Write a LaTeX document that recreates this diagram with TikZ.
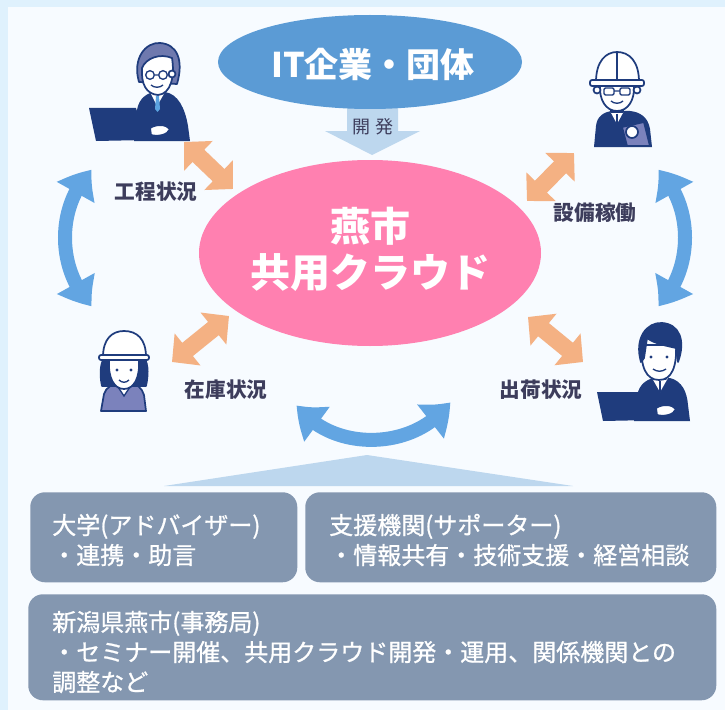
\documentclass[tikz,border=0pt]{standalone}
\usepackage{fontspec}
\setmainfont{Noto Sans CJK JP}
\newfontfamily\boxfont[FakeBold=0.9]{Noto Sans CJK JP}
\usetikzlibrary{arrows.meta,bending,shapes.geometric}

\definecolor{bgOuter}{HTML}{DFF1FD}
\definecolor{bgInner}{HTML}{F7FBFF}
\definecolor{itBlue}{HTML}{5B9BD5}
\definecolor{cloudPink}{HTML}{FF80B0}
\definecolor{devBlue}{HTML}{BDD7EE}
\definecolor{linkOrange}{HTML}{F4B183}
\definecolor{flowBlue}{HTML}{62A5E2}
\definecolor{boxGrey}{HTML}{8497B0}
\definecolor{labelInk}{HTML}{3D3D5C}
\definecolor{navy}{HTML}{1F3C7D}
\definecolor{hairGrey}{HTML}{6F79AE}
\definecolor{vest}{HTML}{7B82BC}
\definecolor{tieBlue}{HTML}{5BA3E0}

\tikzset{
  linkarrow/.style={draw=linkOrange, line width=12.75pt,
    {Triangle[width=30pt,length=15pt]}-{Triangle[width=30pt,length=15pt]}},
  flowarrow/.style={draw=flowBlue, line width=10.5pt,
    {Triangle[width=31pt,length=21pt,bend]}-{Triangle[width=31pt,length=21pt,bend]}},
  infobox/.style={fill=boxGrey, rounded corners=11pt, anchor=north west, inner sep=0pt},
  infotext/.style={text=white, font=\boxfont\fontsize{18pt}{22.5pt}\selectfont, align=left, anchor=west, inner sep=0pt},
  statuslabel/.style={text=labelInk, font=\bfseries\fontsize{15.5pt}{18pt}\selectfont, inner sep=0pt},
  outline/.style={draw=navy, line width=1.3pt, line join=round},
}

\begin{document}
\begin{tikzpicture}[x=0.75pt, y=-0.75pt]
% page and panel
\fill[bgOuter] (0,0) rectangle (725,710);
\fill[bgInner] (8,7) rectangle (725,710);
\useasboundingbox (0,0) rectangle (725,710);

% development arrow
\fill[devBlue] (347,100) -- (398,100) -- (398,131) -- (420,131) -- (372,155)
  -- (325,131) -- (347,131) -- cycle;
\node[text=labelInk, font=\fontsize{13.5pt}{15pt}\selectfont, inner sep=0pt] (dev) at (373,127) {開\hspace{4pt}発};

% top organisation ellipse
\node[ellipse, fill=itBlue, minimum width=228pt, minimum height=70.5pt, inner sep=0pt] (it) at (370,62) {};
\node[text=white, font=\bfseries\fontsize{25.5pt}{28pt}\selectfont, inner sep=0pt] (itlabel) at (373,64) {IT企業・団体};

% shared cloud
\node[ellipse, fill=cloudPink, minimum width=256.5pt, minimum height=139.5pt, inner sep=0pt] (cloud) at (370,253) {};
\node[text=white, font=\bfseries\fontsize{30pt}{34.5pt}\selectfont, align=center, inner sep=0pt] (cloudlabel) at (370,249) {燕市\\共用クラウド};

% data exchange arrows
\coordinate (tlA) at (184,142); \coordinate (tlB) at (233,189);
\coordinate (trA) at (527,201); \coordinate (trB) at (574,153);
\coordinate (blA) at (172,362); \coordinate (blB) at (229,316);
\coordinate (brA) at (528,317); \coordinate (brB) at (583,362);
\draw[linkarrow] (tlA) -- (tlB);
\draw[linkarrow] (trA) -- (trB);
\draw[linkarrow] (blA) -- (blB);
\draw[linkarrow] (brA) -- (brB);

% circulation arrows
\coordinate (lTop) at (92,170); \coordinate (lBot) at (92,306);
\coordinate (rTop) at (658,170); \coordinate (rBot) at (658,306);
\coordinate (bL) at (297,405); \coordinate (bR) at (450,402);
\draw[flowarrow] (lTop) .. controls (56,205) and (56,270) .. (lBot);
\draw[flowarrow] (rTop) .. controls (694,205) and (694,270) .. (rBot);
\draw[flowarrow] (bL) .. controls (330,452) and (415,452) .. (bR);

% status labels
\node[statuslabel] (l1) at (156,192) {工程状況};
\node[statuslabel] (l2) at (595,213) {設備稼働};
\node[statuslabel] (l3) at (226,390) {在庫状況};
\node[statuslabel] (l4) at (541,390) {出荷状況};

% support base triangle
\fill[devBlue] (367,455) -- (573,486) -- (164,486) -- cycle;

% supporting organisations
\node[infobox, minimum width=200.25pt, minimum height=67.5pt] (univ) at (30,492) {};
\node[infobox, minimum width=308.25pt, minimum height=67.5pt] (support) at (305,492) {};
\node[infobox, minimum width=516pt, minimum height=79.5pt] (office) at (28,594) {};
\node[infotext] (univtext) at (52,540) {大学(アドバイザー)\\・連携・助言};
\node[infotext] (supporttext) at (329,540) {支援機関(サポーター)\\・情報共有・技術支援・経営相談};
\node[infotext] (officetext) at (52,652) {新潟県燕市(事務局)\\・セミナー開催、共用クラウド開発・運用、関係機関との\\調整など};

% --- person 1: manager at laptop (top left)
\fill[navy] (134,141) -- (137,110) .. controls (139,98) and (147,93) .. (155,92) -- (165,92)
  .. controls (178,94) and (185,108) .. (188,126) -- (190,141) -- cycle;
\fill[white] (150,92) -- (157,106) -- (165,92) -- cycle;
\fill[tieBlue] (156,96) -- (159,96) -- (160,109) -- (157.5,112) -- (155,109) -- cycle;
\filldraw[fill=white, outline] (151,84) rectangle (164,93);
\filldraw[fill=hairGrey, outline] (139,82) .. controls (132,58) and (146,42) .. (160,43)
  .. controls (177,44) and (184,60) .. (177,84) -- cycle;
\filldraw[fill=white, outline] (142,68) .. controls (146,58) and (160,53) .. (172,58)
  .. controls (175,76) and (171,94) .. (158,95) .. controls (146,94) and (141,84) .. (142,68) -- cycle;
\filldraw[fill=white, outline] (172,74) circle[radius=3.5];
\draw[navy, line width=1pt] (150,75) circle[radius=4.3] (163,75) circle[radius=4.3] (154.3,75) -- (158.7,75);
\draw[navy, line width=1pt] (151,85) .. controls (154,88) and (160,88) .. (163,85);
\fill[navy] (89,108) -- (136,108) -- (146,140) -- (96,141) -- cycle;
\filldraw[fill=white, outline] (150,128) .. controls (156,124) and (166,124) .. (170,129)
  .. controls (168,135) and (158,137) .. (151,135) -- cycle;

% --- person 2: engineer with clipboard (top right)
\fill[navy] (594,147) -- (596,126) .. controls (597,116) and (604,112) .. (612,111) -- (630,111)
  .. controls (640,112) and (648,117) .. (650,129) -- (652,147) -- cycle;
\fill[white] (610,111) -- (617,124) -- (624,111) -- cycle;
\draw[navy, line width=1.5pt] (617,114) -- (617,124);
\filldraw[fill=white, outline] (611,102) rectangle (623,112);
\filldraw[fill=white, outline] (600,85) .. controls (599,100) and (606,111) .. (617,111)
  .. controls (628,111) and (635,100) .. (634,85) -- cycle;
\filldraw[fill=white, outline] (597,90) circle[radius=3.5] (637,90) circle[radius=3.5];
\filldraw[fill=white, outline] (596,82) .. controls (596,61) and (606,52) .. (617,52)
  .. controls (629,52) and (639,61) .. (639,82) -- cycle;
\draw[navy, line width=1pt] (617,53) -- (617,80);
\filldraw[fill=white, outline, rounded corners=1.5pt] (590,80) rectangle (644,86);
\draw[navy, line width=1pt, rounded corners=1pt] (604,88) rectangle (614,95) (620,88) rectangle (630,95) (614,91) -- (620,91);
\draw[navy, line width=1pt] (611,101) .. controls (614,104) and (620,104) .. (623,101);
\filldraw[fill=vest, outline] (622,127) -- (644,122) -- (650,146) -- (627,146) -- cycle;
\filldraw[fill=white, outline] (632,132) circle[radius=6];

% --- person 3: worker in hard hat (bottom left)
\filldraw[fill=vest, outline] (101,411) -- (104,394) .. controls (106,387) and (113,384) .. (119,383)
  -- (130,383) .. controls (137,384) and (142,388) .. (144,395) -- (146,411) -- cycle;
\fill[white] (116,384) -- (124,396) -- (132,384) -- cycle;
\draw[navy, line width=1pt] (116,384) -- (124,396) -- (132,384);
\filldraw[fill=navy, outline] (102,386) .. controls (99,372) and (101,360) .. (106,356) -- (142,356)
  .. controls (148,360) and (149,372) .. (146,386) -- cycle;
\filldraw[fill=white, outline] (109,360) .. controls (108,378) and (114,389) .. (124,389)
  .. controls (134,389) and (140,378) .. (139,360) -- cycle;
\fill[navy] (117,370) circle[radius=1.6] (131,370) circle[radius=1.6];
\draw[navy, line width=1pt] (119,380) .. controls (122,383) and (126,383) .. (129,380);
\filldraw[fill=white, outline] (103,357) .. controls (103,339) and (112,331) .. (124,331)
  .. controls (137,331) and (146,339) .. (146,357) -- cycle;
\filldraw[fill=white, outline, rounded corners=1.5pt] (99,355) rectangle (149,360);

% --- person 4: staff member at laptop (bottom right)
\fill[navy] (634,421) -- (637,396) .. controls (639,384) and (647,379) .. (655,378) -- (670,378)
  .. controls (682,381) and (687,392) .. (688,405) -- (690,421) -- cycle;
\fill[white] (652,378) -- (660,392) -- (668,378) -- cycle;
\draw[navy, line width=1.5pt] (660,381) -- (660,392);
\filldraw[fill=white, outline] (653,369) rectangle (666,379);
\filldraw[fill=white, outline] (642,345) .. controls (640,366) and (646,380) .. (659,380)
  .. controls (672,380) and (677,366) .. (676,345) -- cycle;
\filldraw[fill=navy, outline] (641,362) .. controls (634,338) and (647,322) .. (662,323)
  .. controls (679,324) and (686,340) .. (678,362) -- (676,348) .. controls (668,346) and (655,344) .. (647,338)
  -- (644,358) -- cycle;
\fill[navy] (651,357) circle[radius=1.6] (667,357) circle[radius=1.6];
\draw[navy, line width=1pt] (653,369) .. controls (657,372) and (662,372) .. (666,369);
\fill[navy] (597,392) -- (640,392) -- (652,420) -- (603,421) -- cycle;
\filldraw[fill=white, outline] (656,408) .. controls (662,404) and (672,404) .. (676,409)
  .. controls (674,415) and (664,417) .. (657,415) -- cycle;
\end{tikzpicture}
\end{document}
